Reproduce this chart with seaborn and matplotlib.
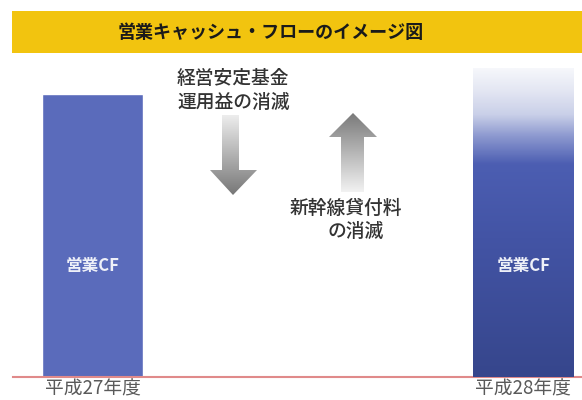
import numpy as np
import matplotlib
matplotlib.use("Agg")
import matplotlib.pyplot as plt
from matplotlib.colors import LinearSegmentedColormap
from matplotlib.patches import Polygon, Rectangle
import seaborn as sns

# data
years = ["平成27年度", "平成28年度"]
cf_values = [283, 309]          # relative height of 営業CF
bar_labels = ["営業CF", "営業CF"]
title = "営業キャッシュ・フローのイメージ図"
note_down = ["経営安定基金", "運用益の消滅"]
note_up = ["新幹線貸付料", "の消滅"]

sns.set_style("white")
plt.rcParams['font.family'] = ['Noto Sans CJK JP', 'DejaVu Sans']

W, H = 582, 400
fig = plt.figure(figsize=(W / 100, H / 100), dpi=100)

# main axes: baseline at y=377px, starts at x=13px
ax = fig.add_axes([13 / W, 23 / H, (W - 13) / W, 377 / H])
sns.barplot(x=years, y=cf_values, hue=years, palette=["#5A6BBB", "#4455A6"],
            width=0.2346, legend=False, ax=ax, saturation=1)
scale = 430.5
ax.set_xlim(-79.5 / scale, (W - 13 - 79.5) / scale)
ax.set_ylim(0, 377)
ax.set_yticks([])
ax.set_xlabel("")
ax.set_ylabel("")
for s in ["top", "left", "right"]:
    ax.spines[s].set_visible(False)
ax.spines["bottom"].set_color("#E08A8A")
ax.spines["bottom"].set_linewidth(1.5)
ax.tick_params(axis="x", length=0, pad=1, labelsize=13.5, labelcolor="#5A5A5A")

# gradient on the second bar
grad_cmap = LinearSegmentedColormap.from_list("cf", [
    (0.0, "#36468C"), (0.45, "#4354A5"), (0.69, "#4C5EB2"),
    (0.78, "#8C98CF"), (0.85, "#C9CFE8"), (0.93, "#E4E7F3"), (1.0, "#F6F7FB")])
p = ax.patches[1]
g = np.linspace(0, 1, 256).reshape(-1, 1)
im = ax.imshow(g, cmap=grad_cmap, aspect="auto", origin="lower",
               extent=(p.get_x(), p.get_x() + p.get_width(), 0, p.get_height()),
               zorder=3)
im.set_clip_path(p)
ax.set_xlim(-79.5 / scale, (W - 13 - 79.5) / scale)
ax.set_ylim(0, 377)

# overlay in pixel coords for decorations
ov = fig.add_axes([0, 0, 1, 1], zorder=5)
ov.set_xlim(0, W)
ov.set_ylim(H, 0)
ov.axis("off")
ov.patch.set_alpha(0)

ov.add_patch(Rectangle((12, 11), W - 12, 42, color="#F2C40F", lw=0))
ov.text(271, 32, title, ha="center", va="center", fontsize=13,
        fontweight="bold", color="#1A1A1A")

for lbl, xc in zip(bar_labels, [93, 524]):
    ov.text(xc, 266, lbl, ha="center", va="center", fontsize=12,
            fontweight="bold", color="#EEF0F8")

# notes
note_kw = dict(ha="center", va="center", fontsize=13.5, color="#333333",
               fontweight="medium")
ov.text(233, 79, note_down[0], **note_kw)
ov.text(234, 102, note_down[1], **note_kw)
ov.text(346, 208, note_up[0], **note_kw)
ov.text(356, 231, note_up[1], **note_kw)


def grad_arrow(pts, top_col, bot_col):
    poly = Polygon(pts, closed=True, fc="none", ec="none")
    ov.add_patch(poly)
    xs = [q[0] for q in pts]
    ys = [q[1] for q in pts]
    cm = LinearSegmentedColormap.from_list("a", [top_col, bot_col])
    img = ov.imshow(g, cmap=cm, aspect="auto", origin="upper",
                    extent=(min(xs), max(xs), max(ys), min(ys)), zorder=4)
    img.set_clip_path(poly)


# down arrow
grad_arrow([(222, 115), (239, 115), (239, 170), (257, 170), (233, 195),
            (210, 170), (222, 170)], "#EDEDED", "#777777")
# up arrow
grad_arrow([(353, 113), (377, 137), (364, 137), (364, 192), (341, 192),
            (341, 137), (329, 137)], "#7A7A7A", "#F2F2F2")
ov.set_xlim(0, W)
ov.set_ylim(H, 0)

fig.savefig("out.png", dpi=100)
